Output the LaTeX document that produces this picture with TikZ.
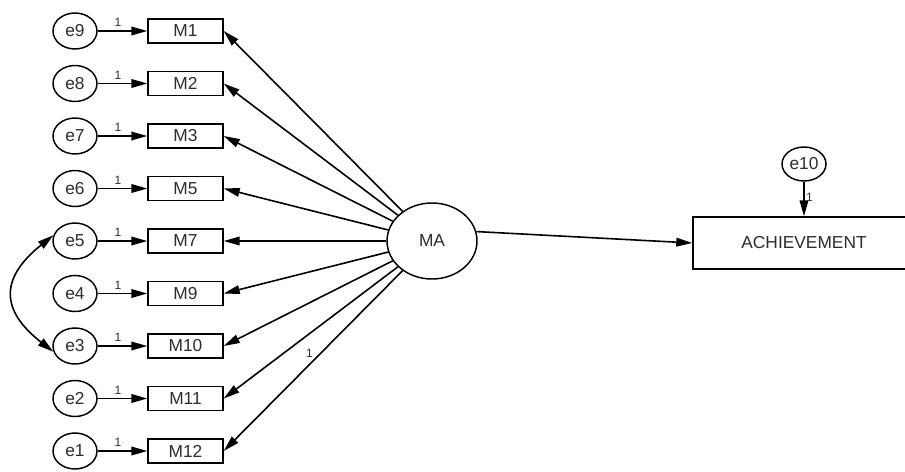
\documentclass[tikz,border=0pt]{standalone}
\usepackage{fontspec}
\setmainfont{Liberation Sans}
\usetikzlibrary{shapes.geometric,arrows.meta}

\definecolor{ink}{RGB}{45,45,45}

\tikzset{
  path/.style={line width=1.2pt, draw=black},
  arr/.style={path, -{Triangle[length=12pt,width=6.5pt]}},
  darr/.style={path, {Triangle[length=12pt,width=6.5pt]}-{Triangle[length=12pt,width=6.5pt]}},
  obs/.style={rectangle, draw=black, line width=1.1pt, fill=white,
              minimum width=56.25pt, minimum height=18pt, inner sep=0pt,
              text=ink, font=\fontsize{13}{15}\selectfont},
  err/.style={ellipse, draw=black, line width=1.1pt, fill=white,
              minimum width=33pt, minimum height=27pt, inner sep=0pt,
              text=ink, font=\fontsize{13}{15}\selectfont},
  latent/.style={ellipse, draw=black, line width=1.1pt, fill=white,
              minimum width=67.5pt, minimum height=57pt, inner sep=0pt,
              text=ink, font=\fontsize{13}{15}\selectfont},
  lab/.style={text=ink, font=\fontsize{9}{10}\selectfont, inner sep=1pt}
}

\begin{document}
\begin{tikzpicture}[x=0.75pt, y=-0.75pt]
  \clip (0,0) rectangle (905,471);
  \fill[white] (0,0) rectangle (905,471);

  % indicators with their error terms, top to bottom
  \foreach \e/\m/\k in {e9/M1/0, e8/M2/1, e7/M3/2, e6/M5/3, e5/M7/4,
                        e4/M9/5, e3/M10/6, e2/M11/7, e1/M12/8} {
    \node[err] (\e) at (75, {31+52.5*\k}) {\e};
    \node[obs] (\m) at (185.5, {31+52.5*\k}) {\m};
    \draw[arr] (\e) -- node[lab, above, pos=0.41, yshift=1.5pt] {1} (\m);
  }

  % latent factor and outcome
  \node[latent] (MA) at (432, 241) {MA};
  \node[obs, minimum width=166.5pt, minimum height=39pt] (ACH) at (804, 243) {ACHIEVEMENT};
  \node[err, minimum height=25.5pt] (e10) at (804, 164) {e10};

  % factor loadings
  \foreach \m in {M1, M2, M3, M5, M7, M9, M10, M11}
    \draw[arr] (MA) -- (\m.east);
  \draw[arr] (MA) -- node[lab, pos=0.46, left, xshift=-4pt] {1} (M12.east);

  % structural path and its disturbance
  \draw[arr] (MA.12) -- (ACH.west);
  \draw[arr] (e10) -- node[lab, right, pos=0.45] {1} (ACH.north);

  % error covariance
  \draw[darr] (e5.165) .. controls (0,278) and (0,310) .. (e3.195);
\end{tikzpicture}
\end{document}
